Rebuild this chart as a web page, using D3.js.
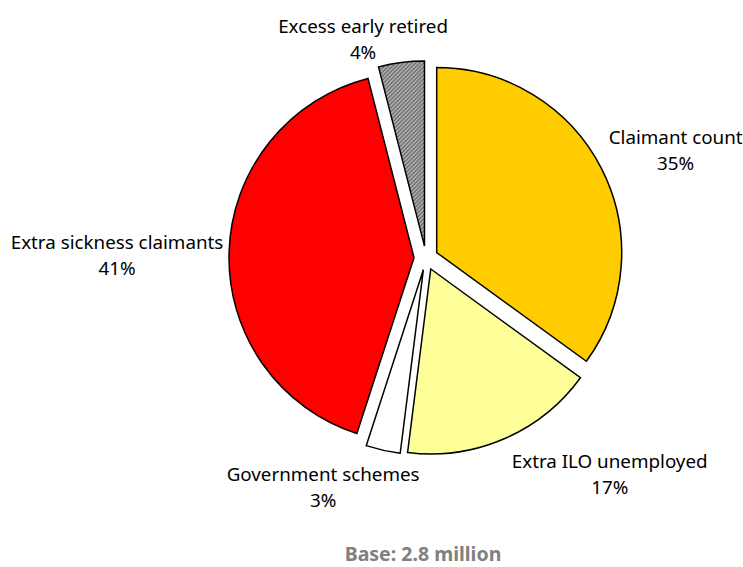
<!DOCTYPE html>
<html>
<head>
<meta charset="utf-8">
<script src="https://cdn.jsdelivr.net/npm/d3@7"></script>
<style>
  html, body { margin: 0; padding: 0; background: #fff; }
  svg { display: block; }
  text { font-family: "Noto Sans", "Open Sans", sans-serif; fill: #000; }
</style>
</head>
<body>
<script>
// Composition of the 2.8 million total, clockwise from 12 o'clock
const categories = ["Claimant count", "Extra ILO unemployed", "Government schemes", "Extra sickness claimants", "Excess early retired"];
const shares = [35, 17, 3, 41, 4];
const baseNote = "Base: 2.8 million";

// Fill for each slice
const fills = ["#FFCC00", "#FFFF99", "#FFFFFF", "#FF0000", "url(#hatch)"];
// Label block centres, as (angle in degrees clockwise from top, distance from pie centre)
const labelPolar = [[66.6, 272], [139.7, 284], [204.2, 251], [270.4, 309], [-16.1, 227]];

const W = 743, H = 567;
const cx = 426, cy = 258, R = 185, explode = 12;

const svg = d3.select("body").append("svg").attr("width", W).attr("height", H);

// Fine grey cross-hatch for the early-retired slice
const pat = svg.append("defs").append("pattern")
  .attr("id", "hatch").attr("patternUnits", "userSpaceOnUse")
  .attr("width", 4).attr("height", 4);
pat.append("rect").attr("width", 4).attr("height", 4).attr("fill", "#e8e8e8");
[[0,3],[1,2],[2,1],[3,0]].forEach(([x,y]) =>
  pat.append("rect").attr("x", x).attr("y", y).attr("width", 1).attr("height", 1).attr("fill", "#000"));
[[0,1],[1,0],[2,3],[3,2]].forEach(([x,y]) =>
  pat.append("rect").attr("x", x).attr("y", y).attr("width", 1).attr("height", 1).attr("fill", "#707070"));

const pie = d3.pie().sort(null).value(d => d).startAngle(0).endAngle(2 * Math.PI);
const arcs = pie(shares);
const arc = d3.arc().innerRadius(0).outerRadius(R);

const g = svg.append("g").attr("transform", `translate(${cx},${cy})`);

g.selectAll("path.slice")
  .data(arcs)
  .join("path")
  .attr("class", "slice")
  .attr("d", arc)
  .attr("fill", (d, i) => fills[i])
  .attr("stroke", "#000")
  .attr("stroke-width", 1.5)
  .attr("stroke-linejoin", "miter")
  .attr("transform", d => {
    const mid = (d.startAngle + d.endAngle) / 2;
    return `translate(${explode * Math.sin(mid)},${-explode * Math.cos(mid)})`;
  });

// Two-line labels: category name and percentage
const labels = g.selectAll("g.label")
  .data(arcs)
  .join("g")
  .attr("class", "label")
  .attr("transform", (d, i) => {
    const [deg, dist] = labelPolar[i];
    const a = deg * Math.PI / 180;
    return `translate(${dist * Math.sin(a)},${-dist * Math.cos(a)})`;
  });

labels.append("text")
  .attr("text-anchor", "middle")
  .attr("y", -13)
  .attr("dy", "0.35em")
  .style("font-size", "18.8px")
  .text((d, i) => categories[i]);

labels.append("text")
  .attr("text-anchor", "middle")
  .attr("y", 13)
  .attr("dy", "0.35em")
  .style("font-size", "18.8px")
  .text(d => d.data + "%");

svg.append("text")
  .attr("x", 423)
  .attr("y", 561)
  .attr("text-anchor", "middle")
  .style("font-size", "19.5px")
  .style("font-weight", "bold")
  .style("fill", "#808080")
  .text(baseNote);
</script>
</body>
</html>
